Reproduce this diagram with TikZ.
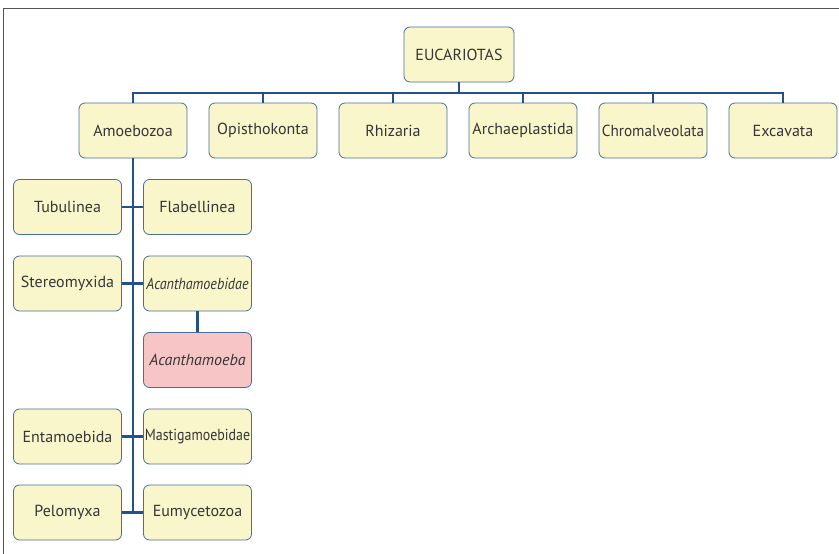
\documentclass[tikz,border=0pt]{standalone}
\usepackage{graphicx}
\usepackage{fontspec}
\setmainfont{PT Sans}
\definecolor{boxline}{HTML}{4A6E9C}
\definecolor{boxfill}{HTML}{F8F6CA}
\definecolor{pinkfill}{HTML}{F7C5C5}
\definecolor{connblue}{HTML}{24508C}
\definecolor{txt}{HTML}{363636}
\definecolor{framec}{HTML}{555555}
\begin{document}
\begin{tikzpicture}[x=1pt,y=-1pt,
  box/.style={draw=boxline, fill=boxfill, rounded corners=6pt, minimum width=108pt,
    minimum height=55pt, inner sep=0pt, font=\fontsize{16}{18}\selectfont, text=txt, line width=0.8pt},
  pinkbox/.style={box, fill=pinkfill},
  conn/.style={draw=connblue, line width=2.6pt},
  framel/.style={draw=framec, line width=1.2pt}]
\useasboundingbox (0,0) rectangle (839,554);
\draw[framel] (3.5,554) -- (3.5,8.5) -- (839,8.5);
\coordinate (bus) at (0,93);
\node[box, minimum width=110pt] (euc) at (459,54.5) {EUCARIOTAS};
\node[box] (amo) at (133,130.5) {Amoebozoa};
\node[box] (opi) at (263,130.5) {Opisthokonta};
\node[box] (rhi) at (393,130.5) {Rhizaria};
\node[box] (arc) at (523,130.5) {Archaeplastida};
\node[box] (chr) at (653,130.5) {\scalebox{0.95}[1]{Chromalveolata}};
\node[box] (exc) at (783,130.5) {Excavata};
\node[box] (tub) at (67.5,207) {Tubulinea};
\node[box] (fla) at (197.5,207) {Flabellinea};
\node[box] (ste) at (67.5,283.5) {Stereomyxida};
\node[box] (acb) at (197.5,283.5) {\scalebox{0.88}[1]{\itshape Acanthamoebidae}};
\node[pinkbox] (aca) at (197.5,360) {\itshape Acanthamoeba};
\node[box] (ent) at (67.5,436.5) {Entamoebida};
\node[box] (mas) at (197.5,436.5) {\scalebox{0.87}[1]{Mastigamoebidae}};
\node[box] (pel) at (67.5,512.5) {Pelomyxa};
\node[box] (eum) at (197.5,512.5) {Eumycetozoa};
\draw[conn] (euc.south) -- (euc.south |- bus);
\draw[conn] (amo.north) -- (amo.north |- bus) -- (exc.north |- bus) -- (exc.north);
\draw[conn] (opi.north) -- (opi.north |- bus);
\draw[conn] (rhi.north) -- (rhi.north |- bus);
\draw[conn] (arc.north) -- (arc.north |- bus);
\draw[conn] (chr.north) -- (chr.north |- bus);
\draw[conn] (amo.south) -- (amo.south |- pel.east);
\draw[conn] (tub.east) -- (fla.west);
\draw[conn] (ste.east) -- (acb.west);
\draw[conn] (ent.east) -- (mas.west);
\draw[conn] (pel.east) -- (eum.west);
\draw[conn] (acb.south) -- (aca.north);
\end{tikzpicture}
\end{document}
